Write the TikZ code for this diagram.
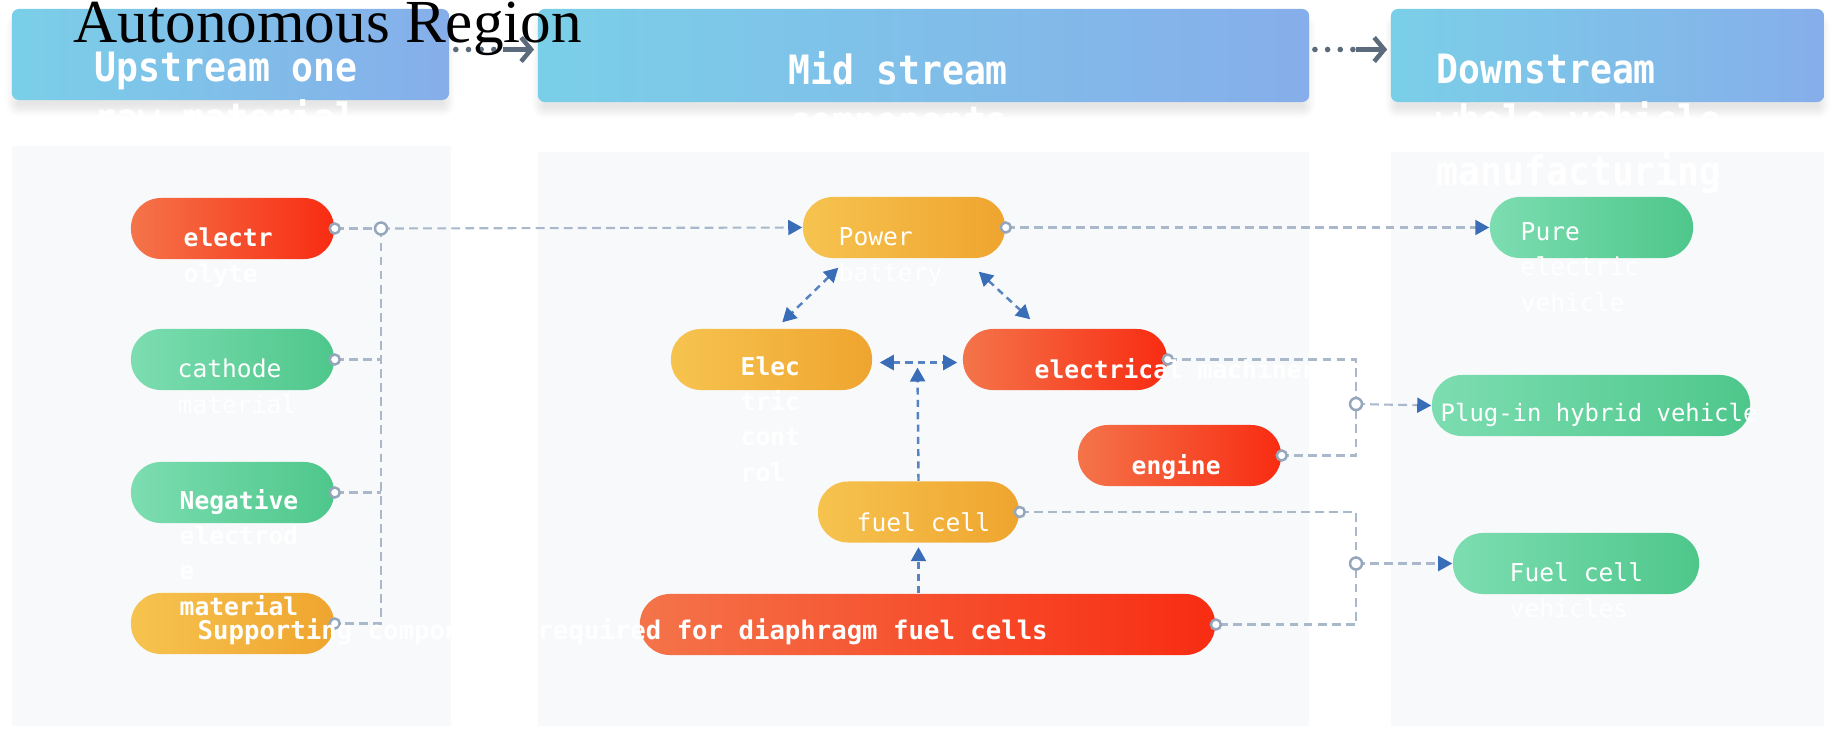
\documentclass[tikz,border=0pt]{standalone}
\usepackage{fontspec}
\setmainfont{Liberation Serif}
\newfontfamily\pillfont{DejaVu Sans Mono}
\newfontfamily\headfont[FakeStretch=0.9]{DejaVu Sans Mono}
\usetikzlibrary{arrows.meta,calc,shadows.blur,positioning}
\definecolor{redl}{HTML}{F4744A}
\definecolor{redr}{HTML}{F82C12}
\definecolor{grnl}{HTML}{7CDDB1}
\definecolor{grnr}{HTML}{4EC78B}
\definecolor{yell}{HTML}{F6C34F}
\definecolor{yelr}{HTML}{EFA52F}
\definecolor{hdl}{HTML}{7ACFE8}
\definecolor{hdr}{HTML}{86AEEA}
\definecolor{panelbg}{HTML}{F8F9FB}
\definecolor{linkgray}{HTML}{A9B8CB}
\definecolor{portgray}{HTML}{93A6BC}
\definecolor{tipblue}{HTML}{3A6DB8}
\definecolor{hdgray}{HTML}{5B6B7B}

\begin{document}
\begin{tikzpicture}[x=0.01cm,y=-0.01cm,
    pill/.style={minimum height=0.61cm,rounded corners=0.3cm,inner sep=0pt},
    redpill/.style={pill,left color=redl,right color=redr},
    greenpill/.style={pill,left color=grnl,right color=grnr},
    yelpill/.style={pill,left color=yell,right color=yelr},
    headbox/.style={rounded corners=2pt,inner sep=0pt,left color=hdl,right color=hdr,
      blur shadow={shadow xshift=0pt,shadow yshift=-3pt,shadow opacity=10,shadow blur steps=8}},
    headtxt/.style={text=white,font=\headfont\bfseries\fontsize{11.5}{14.4}\selectfont,
      align=left,anchor=base west,inner sep=0pt},
    ptxt/.style={text=white,font=\pillfont\fontsize{7}{10}\selectfont,
      align=left,anchor=base west,inner sep=0pt},
    ptxtb/.style={ptxt,font=\pillfont\bfseries\fontsize{7}{10}\selectfont},
    link/.style={draw=linkgray,line width=0.6pt,dash pattern=on 2.5pt off 1.5pt},
    flow/.style={link,-{Triangle[length=0.14cm,width=0.15cm,color=tipblue]}},
    twoway/.style={draw=tipblue!85,line width=0.7pt,dash pattern=on 2pt off 1.5pt,
      {Triangle[length=0.14cm,width=0.15cm,color=tipblue]}-{Triangle[length=0.14cm,width=0.15cm,color=tipblue]}},
    upway/.style={draw=tipblue!85,line width=0.7pt,dash pattern=on 2pt off 1.5pt,
      -{Triangle[length=0.14cm,width=0.15cm,color=tipblue]}},
    port/.style={draw=portgray,fill=white,line width=0.7pt},
    hdots/.style={draw=hdgray,line width=1.6pt,line cap=round,dash pattern=on 0pt off 3.6pt},
    harrow/.style={draw=hdgray,line width=1.3pt,-{Straight Barb[length=0.1cm,width=0.24cm]}}]
  \useasboundingbox (0,0) rectangle (1837,730);

  \fill[panelbg] (12,146) rectangle (451,726);
  \fill[panelbg] (538,152) rectangle (1309,726);
  \fill[panelbg] (1391,152) rectangle (1824,726);

  \node[headbox,minimum width=4.37cm,minimum height=0.91cm] (up) at (230.5,54.5) {};
  \node[headbox,minimum width=7.71cm,minimum height=0.93cm] (mid) at (923.5,55.5) {};
  \node[headbox,minimum width=4.33cm,minimum height=0.93cm] (down) at (1607.5,55.5) {};
  \node[headtxt] (uptxt) at (94,132) {Upstream one\\raw material};
  \node[headtxt] (midtxt) at (788,135) {Mid stream\\components};
  \node[headtxt] (downtxt) at (1436,185) {Downstream\\whole vehicle\\manufacturing};

  \draw[hdots] ($(up.east)+(6,-5)$) -- ($(mid.west)+(-34,-6)$);
  \draw[harrow] ($(mid.west)+(-34,-6)$) -- ($(mid.west)+(-3,-6)$);
  \draw[hdots] ($(mid.east)+(5,-6)$) -- ($(down.west)+(-34,-6)$);
  \draw[harrow] ($(down.west)+(-34,-6)$) -- ($(down.west)+(-3,-6)$);

  \node[anchor=base west,inner sep=0pt,font=\fontsize{17.4}{20}\selectfont] (title) at (73,42) {Autonomous Region};

  \node[redpill,minimum width=2.03cm] (ely) at (232.5,228.5) {};
  \node[greenpill,minimum width=2.03cm] (cath) at (232.5,359.5) {};
  \node[greenpill,minimum width=2.03cm] (neg) at (232.5,492.5) {};
  \node[yelpill,minimum width=2.03cm] (supl) at (232.5,623.5) {};

  \node[yelpill,minimum width=2.02cm] (pb) at (904,227.5) {};
  \node[yelpill,minimum width=2.01cm] (ec) at (771.5,359.5) {};
  \node[redpill,minimum width=2.04cm] (em) at (1065,359.5) {};
  \node[redpill,minimum width=2.03cm] (eng) at (1179.5,455.5) {};
  \node[yelpill,minimum width=2.01cm] (fc) at (918.5,512) {};
  \node[redpill,minimum width=5.75cm] (supm) at (927.5,624.5) {};

  \node[greenpill,minimum width=2.03cm] (pev) at (1591.5,227.5) {};
  \node[greenpill,minimum width=3.18cm] (phv) at (1591,405.5) {};
  \node[greenpill,minimum width=2.46cm] (fcv) at (1576,563.5) {};

  \coordinate (j1) at (381,228.5);
  \coordinate (j2) at (1356,404);
  \coordinate (j3) at (1356,563.5);

  \draw[link] (ely.east) -- (j1);
  \draw[link] (j1) -- (j1 |- supl.east) -- (supl.east);
  \draw[link] (cath.east) -- (cath.east -| j1);
  \draw[link] (neg.east) -- (neg.east -| j1);
  \draw[flow] (j1) -- (pb.west);
  \draw[flow] (pb.east) -- (pev.west);
  \draw[link] (em.east) -| (j2 |- eng.east) -- (eng.east);
  \draw[flow] (j2) -- (phv.west);
  \draw[link] (fc.east) -| (j3 |- supm.east) -- (supm.east);
  \draw[flow] (j3) -- (fcv.west);

  \draw[twoway] ($(pb.south west)+(36,9)$) -- ($(ec.north west)+(112,-6)$);
  \draw[twoway] ($(pb.south east)+(-27,13)$) -- ($(em.north west)+(68,-9)$);
  \draw[twoway] ($(ec.east)+(7,3)$) -- ($(em.west)+(-5,3)$);
  \draw[upway] (fc.north) -- ($(ec.east)!0.5!(em.west)+(0,8)$);
  \draw[upway] (supm.north -| fc) -- ($(fc.south)+(0,4)$);

  \foreach \p in {ely,cath,neg,supl,pb,em,eng,fc,supm}
    \draw[port] (\p.east) circle (0.05cm);
  \foreach \j in {j1,j2,j3}
    \draw[port] (\j) circle (0.06cm);

  \node[ptxtb] (t-ely) at (183,282) {electr\\olyte};
  \node[ptxt] (t-cath) at (177,413) {cathode\\material};
  \node[ptxtb] (t-neg) at (179,615) {Negative\\electrod\\e\\material};
  \node[ptxt] (t-pb) at (838,281) {Power\\battery};
  \node[ptxtb] (t-ec) at (740,481) {Elec\\tric\\cont\\rol};
  \node[ptxtb] (t-em) at (1034,378) {electrical machinery};
  \node[ptxtb] (t-eng) at (1131,474) {engine};
  \node[ptxt] (t-fc) at (856,531) {fuel cell};
  \node[ptxtb,font=\pillfont\bfseries\fontsize{7.3}{10}\selectfont] (t-supm) at (197,639) {Supporting components required for diaphragm fuel cells};
  \node[ptxt] (t-pev) at (1520,311) {Pure\\electric\\vehicle};
  \node[ptxt,font=\pillfont\fontsize{6.8}{10}\selectfont] (t-phv) at (1440,421) {Plug-in hybrid vehicle};
  \node[ptxt] (t-fcv) at (1509,617) {Fuel cell\\vehicles};
\end{tikzpicture}
\end{document}
